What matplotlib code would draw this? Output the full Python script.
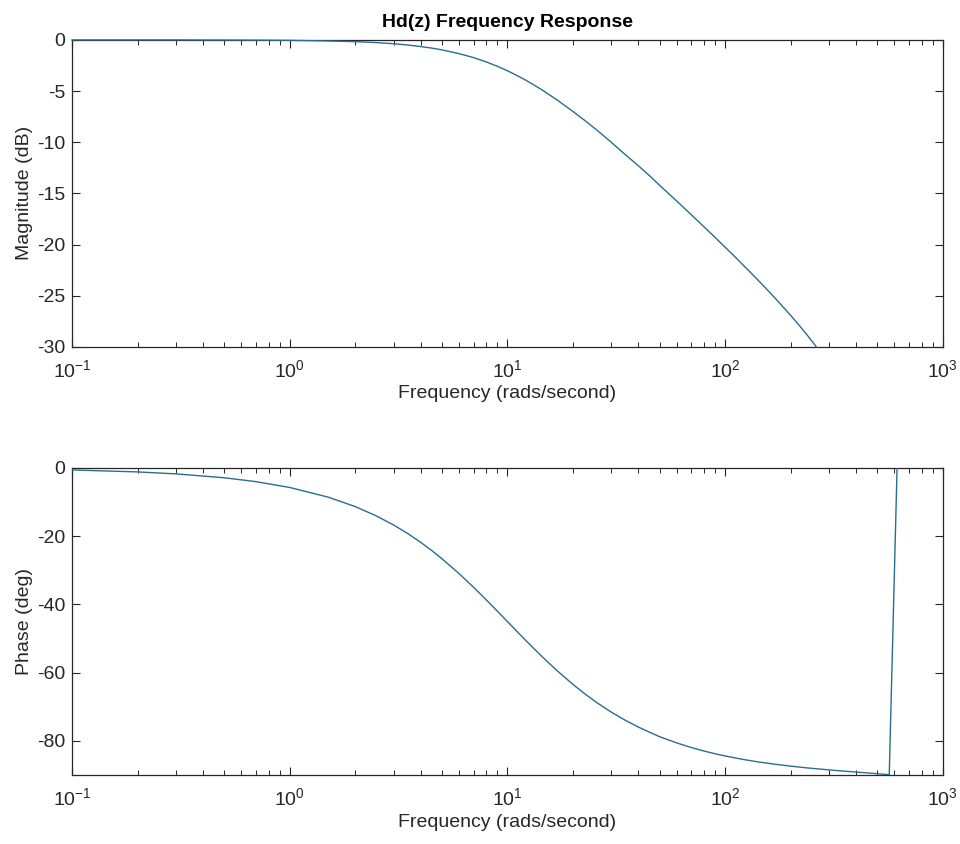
import matplotlib
matplotlib.use("Agg")
import matplotlib.pyplot as plt
import numpy as np

plt.rcParams['font.family'] = ['Liberation Sans', 'DejaVu Sans']
plt.rcParams['mathtext.fontset'] = 'custom'
plt.rcParams['mathtext.rm'] = 'Liberation Sans'
plt.rcParams['mathtext.it'] = 'Liberation Sans:italic'
plt.rcParams['axes.unicode_minus'] = False

# values
mag_freq = [0.1, 0.2, 0.3, 0.5, 0.7, 1, 1.5, 2, 2.5, 3, 3.5, 4, 4.5, 5, 6, 7,
            8, 9, 10, 11, 12, 13, 14, 15, 17, 20, 23, 26, 30, 35, 40, 45, 50,
            60, 70, 80, 90, 100, 110, 120, 130, 140, 150, 165, 180, 200, 220,
            240, 262.7]
mag_db = [0.0, 0.0, 0.0, -0.01, -0.02, -0.04, -0.10, -0.17, -0.26, -0.37,
          -0.50, -0.65, -0.80, -0.97, -1.34, -1.73, -2.15, -2.58, -3.01,
          -3.45, -3.87, -4.30, -4.71, -5.12, -5.90, -6.99, -7.97, -8.88,
          -10.0, -11.25, -12.3, -13.27, -14.2, -15.75, -17.09, -18.26, -19.30,
          -20.25, -21.11, -21.92, -22.66, -23.36, -24.02, -24.95, -25.83,
          -26.91, -27.94, -28.92, -30.0]

ph_freq = [0.1, 0.2, 0.3, 0.5, 0.7, 1, 1.5, 2, 2.5, 3, 3.5, 4, 4.5, 5, 6, 7,
           8, 9, 10, 11, 12, 13, 14, 15, 17, 20, 23, 26, 30, 35, 40, 45, 50,
           60, 70, 80, 90, 100, 120, 140, 165, 200, 240, 300, 350, 400, 450,
           500, 540, 568, 617]
ph_deg = [-0.57, -1.15, -1.72, -2.86, -4.0, -5.71, -8.53, -11.31, -14.04,
          -16.70, -19.29, -21.80, -24.23, -26.57, -30.96, -34.99, -38.66,
          -41.99, -45.0, -47.73, -50.19, -52.43, -54.46, -56.31, -59.53,
          -63.43, -66.50, -68.96, -71.57, -74.05, -75.96, -77.47, -78.76,
          -80.61, -81.96, -82.98, -83.78, -84.42, -85.40, -86.11, -86.76,
          -87.41, -87.95, -88.51, -88.87, -89.15, -89.40, -89.63, -89.80,
          -89.9, 0.0]

line_color = '#2a6d8f'
text_color = '#262626'

fig = plt.figure(figsize=(9.6, 8.44), dpi=100)
ax1 = fig.add_axes([0.075, 0.589, 0.907, 0.3637])
ax2 = fig.add_axes([0.075, 0.0818, 0.907, 0.3637])

ax1.semilogx(mag_freq, mag_db, color=line_color, linewidth=1.0,
             clip_on=False, zorder=3)
ax1.set_ylim(-30, 0)
ax1.set_yticks([0, -5, -10, -15, -20, -25, -30])
ax1.set_ylabel("Magnitude (dB)", fontsize=14, color=text_color, labelpad=3)
ax1.set_title("Hd(z) Frequency Response", fontsize=14, fontweight='bold', pad=9)

ax2.semilogx(ph_freq, ph_deg, color=line_color, linewidth=1.0, zorder=3)
ax2.set_ylim(-90, 0)
ax2.set_yticks([0, -20, -40, -60, -80])
ax2.set_ylabel("Phase (deg)", fontsize=14, color=text_color, labelpad=3)

for ax in (ax1, ax2):
    ax.set_xlim(0.1, 1000)
    ax.set_xlabel("Frequency (rads/second)", fontsize=14, color=text_color, labelpad=3)
    ax.tick_params(which='both', direction='in', top=True, right=True,
                   labelsize=14, colors=text_color, pad=5)
    ax.tick_params(which='major', length=6, width=0.8)
    ax.tick_params(which='minor', length=3.5, width=0.7)
    ax.tick_params(axis='x', which='major', pad=9)
    for s in ax.spines.values():
        s.set_color(text_color)
        s.set_linewidth(0.9)

plt.savefig('out.png', dpi=100)
